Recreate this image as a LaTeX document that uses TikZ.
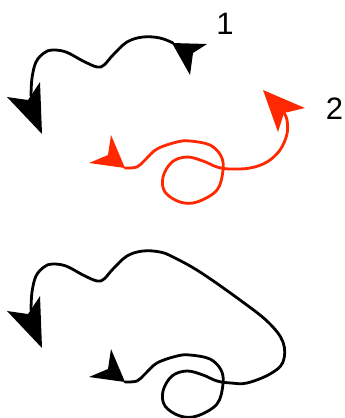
\documentclass[tikz,border=0pt]{standalone}
\usepackage{fontspec}
\setmainfont{Liberation Sans}
\definecolor{redc}{RGB}{255,40,0}
\tikzset{
  curve/.style={line width=2.8pt, line cap=round, line join=round},
  lbl/.style={inner sep=0pt, font=\fontsize{31}{37}\selectfont}
}
\begin{document}
\begin{tikzpicture}[x=1pt,y=-1pt]
\path[use as bounding box] (0,0) rectangle (345,418);
% ---------- curve 1 (black) ----------
\draw[curve] plot[smooth, tension=0.6] coordinates {
 (31,96) (32,78) (36,62) (44,53) (52,50) (66,52) (83,61) (97,67) (104,65)
 (113,55) (127,42) (143,37) (160,38) (173,43)};
\fill (42,134) -- (7,97) -- (28,100) -- (40,82) -- cycle;
\fill (172,43) -- (207,44) -- (193,53) -- (190,75) -- cycle;
% ---------- curve 2 (red) ----------
\draw[curve, redc] plot[smooth, tension=0.6] coordinates {
 (125,168) (137,167) (145,160) (157,149) (177,142) (190,141) (210,145)
 (221,156) (223,170) (217,190) (197,202) (180,202) (165,192) (163,177)
 (172,162) (187,157) (203,161) (217,167) (230,169) (250,168) (267,162)
 (280,150) (287,134) (287,120) (284,113)};
\fill[redc] (263,90) -- (305,108) -- (284,113) -- (278,132) -- cycle;
\fill[redc] (125,168) -- (89,163) -- (108,155) -- (111,135) -- cycle;
% ---------- curve 3 (black, concatenation) ----------
\draw[curve] plot[smooth, tension=0.6] coordinates {
 (31,310) (32,292) (36,276) (44,267) (52,264) (66,266) (83,275) (97,281) (104,279)
 (113,269) (127,256) (143,251) (160,252) (173,257) (200,272) (240,300)
 (268,322) (283,342) (283,362) (270,374) (247,383) (231,383)
 (217,381) (203,375) (187,371) (172,376) (163,391) (165,406) (180,416)
 (197,416) (217,404) (223,384) (221,370) (210,359) (190,355) (177,356)
 (157,363) (145,374) (137,381) (125,382)};
\fill (42,348) -- (7,311) -- (28,314) -- (40,296) -- cycle;
\fill (125,382) -- (89,377) -- (108,369) -- (111,349) -- cycle;
% ---------- labels ----------
\node[lbl] (l1) at (225,24) {1};
\node[lbl] (l2) at (334.5,109) {2};
\end{tikzpicture}
\end{document}
